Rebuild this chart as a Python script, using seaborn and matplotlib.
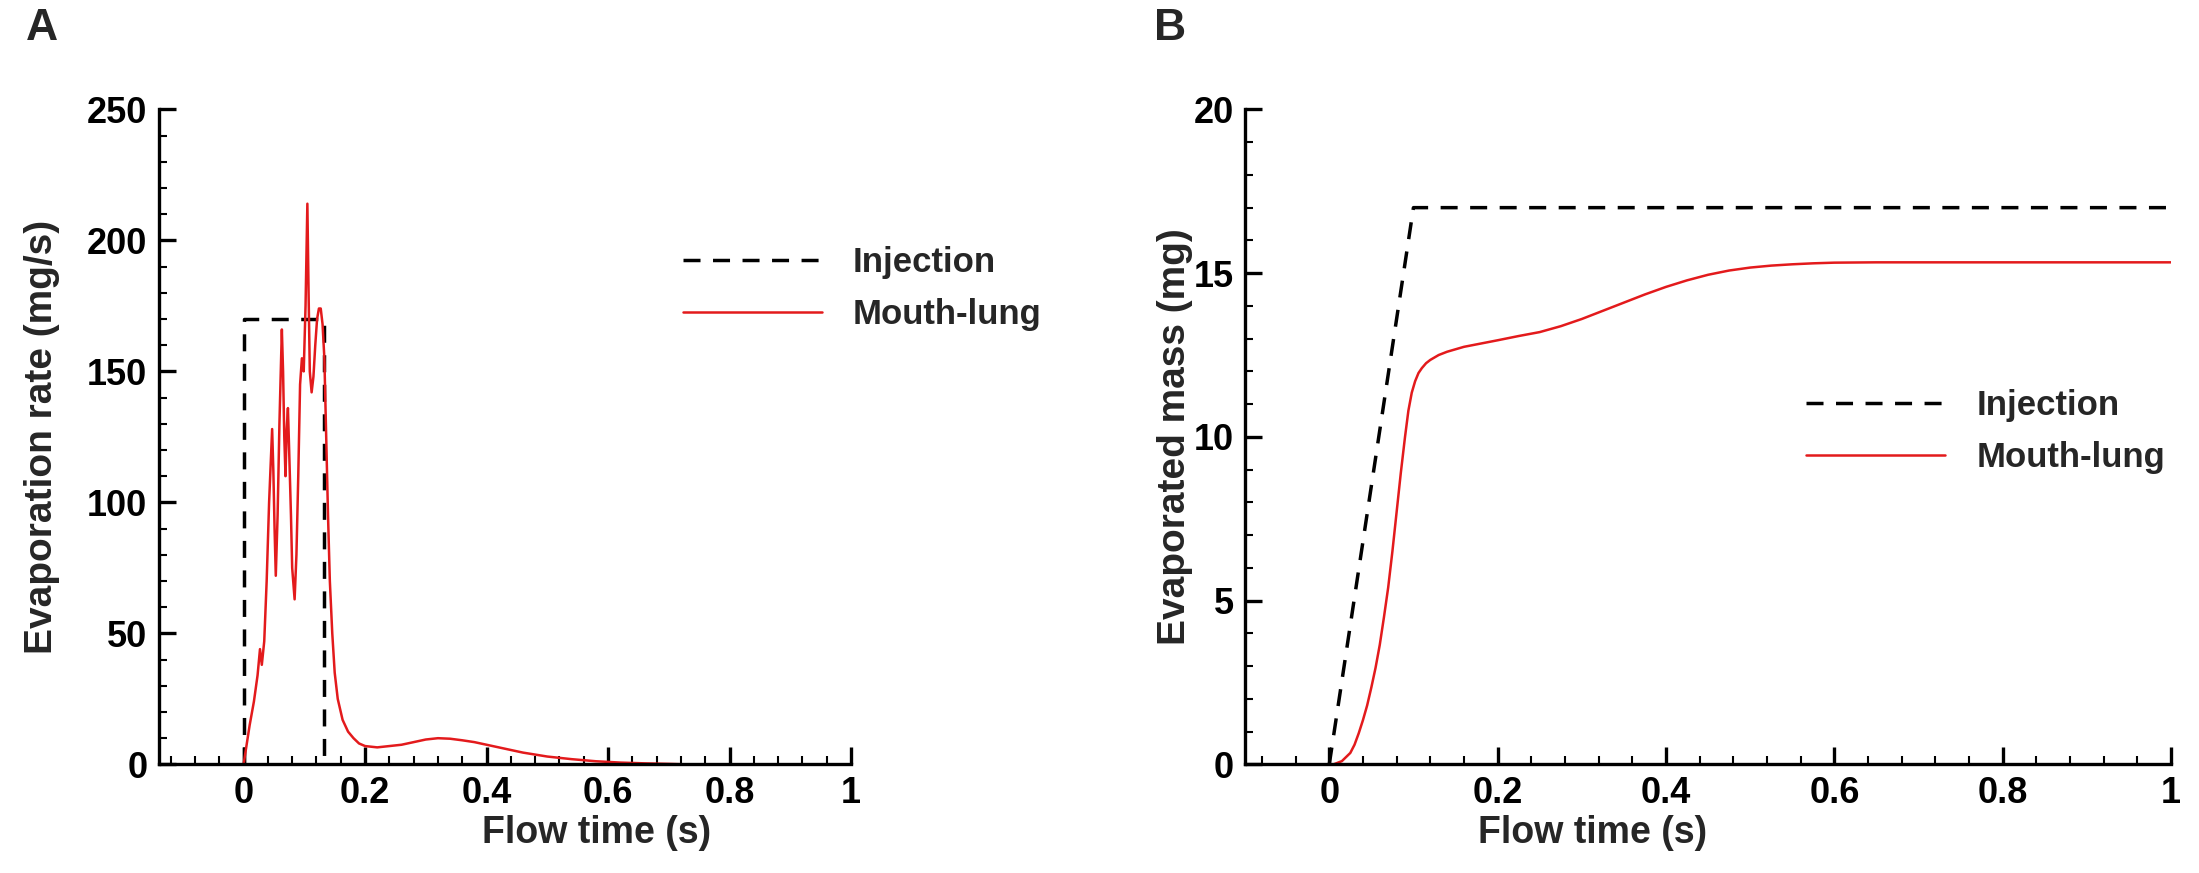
import matplotlib
matplotlib.use("Agg")
import matplotlib.pyplot as plt
from matplotlib.ticker import MultipleLocator, AutoMinorLocator, FuncFormatter
import seaborn as sns

sns.set_theme(style="ticks")
plt.rcParams["font.family"] = ["Liberation Sans", "DejaVu Sans"]
plt.rcParams["font.weight"] = "bold"
plt.rcParams["axes.labelweight"] = "bold"

# panel A: evaporation rate (mg/s)
inj_rate_t = [0.0, 0.0, 0.133, 0.133]
inj_rate_v = [0.0, 170.0, 170.0, 0.0]

rate_t = [0.000, 0.004, 0.010, 0.017, 0.023, 0.027, 0.030, 0.034, 0.038, 0.042,
          0.047, 0.049, 0.051, 0.053, 0.056, 0.059, 0.063, 0.065, 0.067, 0.069,
          0.071, 0.073, 0.075, 0.078, 0.080, 0.084, 0.087, 0.090, 0.093, 0.096,
          0.099, 0.102, 0.105, 0.107, 0.109, 0.112, 0.115, 0.118, 0.121, 0.124,
          0.127, 0.130, 0.133, 0.136, 0.139, 0.142, 0.146, 0.150, 0.155, 0.163,
          0.172, 0.181, 0.190, 0.200, 0.220, 0.240, 0.260, 0.280, 0.300, 0.320,
          0.340, 0.360, 0.380, 0.400, 0.430, 0.460, 0.500, 0.540, 0.580, 0.620,
          0.660, 0.700, 0.730]
rate_v = [0, 6, 15, 24, 34, 44, 38, 47, 70, 100,
          128, 112, 90, 72, 95, 130, 166, 150, 125, 110,
          128, 136, 120, 95, 75, 63, 80, 110, 145, 155,
          150, 175, 214, 180, 150, 142, 148, 160, 170, 174,
          174, 168, 155, 125, 95, 70, 50, 35, 25, 17,
          12.5, 10, 8, 7, 6.5, 7, 7.5, 8.5, 9.5, 10,
          9.8, 9.2, 8.5, 7.5, 6, 4.5, 3, 2, 1.2, 0.7,
          0.4, 0.2, 0]

# panel B: evaporated mass (mg)
inj_mass_t = [0.0, 0.1, 1.0]
inj_mass_v = [0.0, 17.0, 17.0]

mass_t = [0.005, 0.015, 0.025, 0.030, 0.035, 0.040, 0.045, 0.050, 0.055, 0.060,
          0.065, 0.070, 0.075, 0.080, 0.085, 0.090, 0.094, 0.098, 0.102, 0.106,
          0.110, 0.115, 0.120, 0.130, 0.140, 0.160, 0.180, 0.200, 0.225, 0.250,
          0.275, 0.300, 0.325, 0.350, 0.375, 0.400, 0.425, 0.450, 0.475, 0.500,
          0.525, 0.550, 0.575, 0.600, 0.650, 0.700, 0.800, 1.000]
mass_v = [0.0, 0.1, 0.35, 0.6, 0.95, 1.35, 1.8, 2.35, 2.95, 3.65,
          4.5, 5.4, 6.5, 7.7, 8.9, 10.0, 10.8, 11.35, 11.7, 11.95,
          12.1, 12.25, 12.35, 12.5, 12.6, 12.75, 12.85, 12.95, 13.08, 13.2,
          13.38, 13.6, 13.85, 14.1, 14.35, 14.58, 14.78, 14.95, 15.08, 15.17,
          15.23, 15.27, 15.3, 15.32, 15.33, 15.33, 15.33, 15.33]

RED = "#e31a1c"
DASH = (0, (4.9, 3.6))


def style_axis(ax, xlim, ylim, ymajor):
    for side in ["top", "right"]:
        ax.spines[side].set_visible(False)
    for side in ["left", "bottom"]:
        ax.spines[side].set_linewidth(2.4)
        ax.spines[side].set_color("black")
    ax.set_xlim(*xlim)
    ax.set_ylim(*ylim)
    ax.xaxis.set_major_locator(MultipleLocator(0.2))
    ax.xaxis.set_minor_locator(AutoMinorLocator(5))
    ax.yaxis.set_major_locator(MultipleLocator(ymajor))
    ax.yaxis.set_minor_locator(AutoMinorLocator(5))
    ax.xaxis.set_major_formatter(FuncFormatter(lambda v, p: f"{v:g}"))
    ax.tick_params(which="major", direction="in", length=12, width=2.4,
                   labelsize=26, pad=8, colors="black")
    ax.tick_params(which="minor", direction="in", length=6, width=1.5,
                   colors="black")
    ax.set_facecolor("white")


def add_legend(ax, anchor):
    ax.legend(loc="center left", bbox_to_anchor=anchor, frameon=False,
              fontsize=25, handlelength=4.0, handletextpad=0.9,
              borderaxespad=0, borderpad=0, labelspacing=0.55)


fig = plt.figure(figsize=(21.99, 8.73), dpi=100)
ax_a = fig.add_axes([0.0721, 0.1244, 0.3149, 0.7503])
ax_b = fig.add_axes([0.5662, 0.1244, 0.4211, 0.7503])

sns.lineplot(x=inj_rate_t, y=inj_rate_v, ax=ax_a, color="black", lw=2.5,
             linestyle=DASH, label="Injection", estimator=None, sort=False)
sns.lineplot(x=rate_t, y=rate_v, ax=ax_a, color=RED, lw=1.8,
             label="Mouth-lung", estimator=None, sort=False)
style_axis(ax_a, (-0.14, 1.0), (0, 250), 50)
ax_a.set_xlabel("Flow time (s)", fontsize=27)
ax_a.set_ylabel("Evaporation rate (mg/s)", fontsize=28)
ax_a.xaxis.set_label_coords(0.632, -0.078)
ax_a.yaxis.set_label_coords(-0.142, 0.5)
add_legend(ax_a, (0.757, 0.726))

sns.lineplot(x=inj_mass_t, y=inj_mass_v, ax=ax_b, color="black", lw=2.5,
             linestyle=DASH, label="Injection", estimator=None, sort=False)
sns.lineplot(x=mass_t, y=mass_v, ax=ax_b, color=RED, lw=1.8,
             label="Mouth-lung", estimator=None, sort=False)
style_axis(ax_b, (-0.1, 1.0), (0, 20), 5)
ax_b.set_xlabel("Flow time (s)", fontsize=27)
ax_b.set_ylabel("Evaporated mass (mg)", fontsize=28)
ax_b.xaxis.set_label_coords(0.375, -0.078)
ax_b.yaxis.set_label_coords(-0.056, 0.5)
add_legend(ax_b, (0.606, 0.508))

fig.text(42 / 2199, 1 - 28 / 873, "A", fontsize=32, fontweight="bold",
         ha="center", va="center")
fig.text(1170 / 2199, 1 - 28 / 873, "B", fontsize=32, fontweight="bold",
         ha="center", va="center")

fig.savefig("out.png", dpi=100, facecolor="white")
plt.close(fig)
